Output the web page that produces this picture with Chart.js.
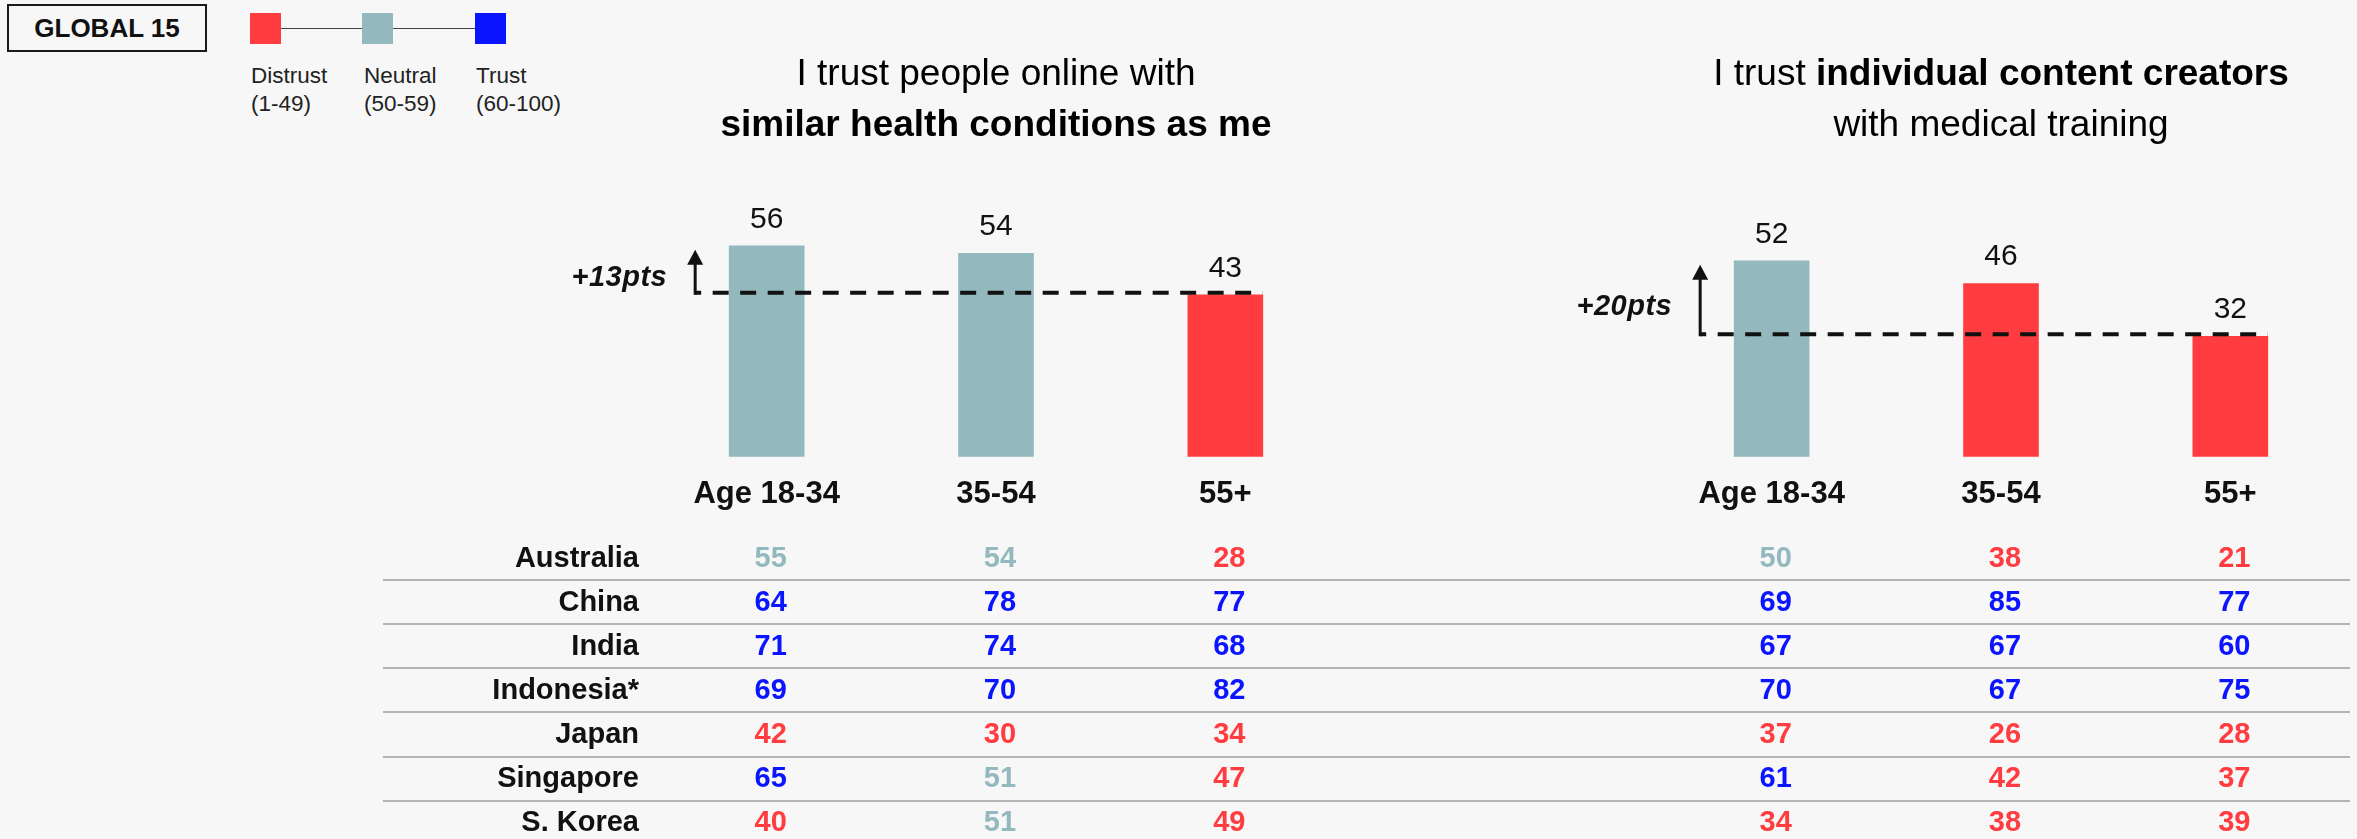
<!DOCTYPE html>
<html>
<head>
<meta charset="utf-8">
<title>Trust in online health voices by age</title>
<script src="https://cdn.jsdelivr.net/npm/chart.js@4.4.1/dist/chart.umd.min.js"></script>
<style>
  body { margin: 0; background: #f7f7f7; font-family: "Liberation Sans", Arial, sans-serif; }
  #page { position: relative; width: 2357px; height: 839px; overflow: hidden; }
  #badge { position: absolute; left: 7px; top: 4px; width: 200px; height: 48px; box-sizing: border-box;
           border: 2px solid #1a1a1a; font-weight: bold; font-size: 26px; line-height: 44px; text-align: center; color: #111; }
  .swatch { position: absolute; top: 13px; width: 31px; height: 31px; }
  #legendLine { position: absolute; left: 281px; top: 28px; width: 194px; border-top: 1.5px solid #444; }
  .key { position: absolute; top: 62px; font-size: 22.5px; line-height: 28px; color: #222; }
  canvas { position: absolute; top: 0; }
</style>
</head>
<body>
<div id="page">
  <div id="badge">GLOBAL 15</div>
  <div id="legendLine"></div>
  <div class="swatch" id="swDistrust" style="left:250px"></div>
  <div class="swatch" id="swNeutral" style="left:362px"></div>
  <div class="swatch" id="swTrust" style="left:475px"></div>
  <div class="key" style="left:251px">Distrust<br>(1-49)</div>
  <div class="key" style="left:364px">Neutral<br>(50-59)</div>
  <div class="key" style="left:476px">Trust<br>(60-100)</div>
  <canvas id="peerChart" width="1500" height="839" style="left:0"></canvas>
  <canvas id="creatorChart" width="857" height="839" style="left:1500px"></canvas>
</div>
<script>
// global scores by age group
const ageGroups = ['Age 18-34', '35-54', '55+'];
const peerTrust = [56, 54, 43];
const creatorTrust = [52, 46, 32];

// country breakdown, one row per country, columns follow ageGroups
const countries = ['Australia', 'China', 'India', 'Indonesia*', 'Japan', 'Singapore', 'S. Korea'];
const peerByCountry = [
  [55, 54, 28],
  [64, 78, 77],
  [71, 74, 68],
  [69, 70, 82],
  [42, 30, 34],
  [65, 51, 47],
  [40, 51, 49]
];
const creatorByCountry = [
  [50, 38, 21],
  [69, 85, 77],
  [67, 67, 60],
  [70, 67, 75],
  [37, 26, 28],
  [61, 42, 37],
  [34, 38, 39]
];

const DISTRUST = '#ff3d40';
const NEUTRAL = '#93b9bf';
const TRUST = '#0a14ff';
const FONT = '"Liberation Sans", Arial, sans-serif';

function trustColour(v) {
  return v < 50 ? DISTRUST : (v < 60 ? NEUTRAL : TRUST);
}

document.getElementById('swDistrust').style.background = DISTRUST;
document.getElementById('swNeutral').style.background = NEUTRAL;
document.getElementById('swTrust').style.background = TRUST;

// title, bar values, gap marker and the country table around each bar chart
const panelExtras = {
  id: 'panelExtras',
  afterDatasetsDraw(chart, args, opts) {
    const ctx = chart.ctx;
    const xs = chart.scales.x, ys = chart.scales.y;
    const bars = chart.getDatasetMeta(0).data;
    const values = chart.data.datasets[0].data;
    ctx.save();

    // title lines made of regular / bold runs, centred on the middle bar
    const cx = xs.getPixelForValue(1);
    ctx.fillStyle = '#000';
    ctx.textBaseline = 'alphabetic';
    ctx.textAlign = 'left';
    opts.title.forEach((line, i) => {
      let total = 0;
      line.forEach(run => {
        ctx.font = (run[1] ? 'bold ' : '') + '37px ' + FONT;
        total += ctx.measureText(run[0]).width;
      });
      let left = cx - total / 2;
      line.forEach(run => {
        ctx.font = (run[1] ? 'bold ' : '') + '37px ' + FONT;
        ctx.fillText(run[0], left, 85 + i * 51);
        left += ctx.measureText(run[0]).width;
      });
    });

    // value above each bar
    ctx.font = '30px ' + FONT;
    ctx.textAlign = 'center';
    ctx.fillStyle = '#111';
    bars.forEach((bar, i) => ctx.fillText(values[i], bar.x, bar.y - 18));

    // dashed line at the lowest group, arrow up to the highest
    const hi = Math.max(...values), lo = Math.min(...values);
    const first = bars[0], last = bars[bars.length - 1];
    const ax = first.x - first.width / 2 - 34;
    const lineY = ys.getPixelForValue(lo) - 2;
    const tipY = ys.getPixelForValue(hi) + 4;
    ctx.strokeStyle = '#111';
    ctx.fillStyle = '#111';
    ctx.lineWidth = 4;
    ctx.setLineDash([16, 11.5]);
    ctx.lineDashOffset = 10;
    ctx.beginPath();
    ctx.moveTo(ax, lineY);
    ctx.lineTo(last.x + last.width / 2, lineY);
    ctx.stroke();
    ctx.setLineDash([]);
    ctx.lineWidth = 3;
    ctx.beginPath();
    ctx.moveTo(ax, lineY + 2);
    ctx.lineTo(ax, tipY + 12);
    ctx.stroke();
    ctx.beginPath();
    ctx.moveTo(ax, tipY);
    ctx.lineTo(ax - 8, tipY + 15);
    ctx.lineTo(ax + 8, tipY + 15);
    ctx.closePath();
    ctx.fill();
    ctx.font = 'italic bold 29px ' + FONT;
    ctx.textAlign = 'right';
    ctx.letterSpacing = '0.5px';
    ctx.fillText('+' + (hi - lo) + 'pts', ax - 28, (tipY + lineY) / 2 + 15);
    ctx.letterSpacing = '0px';

    // country table under the bars
    const rowY = i => 558.8 + i * 44.05;
    ctx.strokeStyle = '#b4b4b4';
    ctx.lineWidth = 2;
    for (let i = 0; i < opts.rows.length - 1; i++) {
      const ly = Math.round(rowY(i) + 21.5);
      ctx.beginPath();
      ctx.moveTo(opts.ruleFrom, ly);
      ctx.lineTo(opts.ruleTo, ly);
      ctx.stroke();
    }
    ctx.font = 'bold 29px ' + FONT;
    ctx.textBaseline = 'middle';
    opts.rows.forEach((row, i) => {
      ctx.textAlign = 'center';
      row.forEach((v, j) => {
        ctx.fillStyle = trustColour(v);
        ctx.fillText(v, xs.getPixelForValue(j) + 4, rowY(i));
      });
      if (opts.names) {
        ctx.textAlign = 'right';
        ctx.fillStyle = '#111';
        ctx.fillText(opts.names[i], opts.namesX, rowY(i));
      }
    });
    ctx.restore();
  }
};

function makePanel(id, values, rows, title, extra) {
  return new Chart(document.getElementById(id), {
    type: 'bar',
    data: {
      labels: ageGroups,
      datasets: [{
        data: values,
        backgroundColor: values.map(trustColour),
        barThickness: 75
      }]
    },
    options: {
      responsive: false,
      animation: false,
      devicePixelRatio: 1,
      layout: { padding: extra.padding },
      plugins: {
        legend: { display: false },
        tooltip: { enabled: false },
        panelExtras: Object.assign({ title: title, rows: rows }, extra)
      },
      scales: {
        x: {
          grid: { display: false, drawTicks: false },
          border: { display: false },
          ticks: { color: '#111', padding: 19, font: { family: FONT, size: 31, weight: 'bold' } }
        },
        y: { display: false, min: 0, max: 100 }
      }
    },
    plugins: [panelExtras]
  });
}

makePanel('peerChart', peerTrust, peerByCountry,
  [[['I trust people online with', false]], [['similar health conditions as me', true]]],
  { padding: { left: 652, right: 160, top: 80, bottom: 307 }, names: countries, namesX: 639, ruleFrom: 383, ruleTo: 1500 });

makePanel('creatorChart', creatorTrust, creatorByCountry,
  [[['I trust ', false], ['individual content creators', true]], [['with medical training', false]]],
  { padding: { left: 157, right: 12, top: 80, bottom: 307 }, ruleFrom: 0, ruleTo: 850 });
</script>
</body>
</html>
